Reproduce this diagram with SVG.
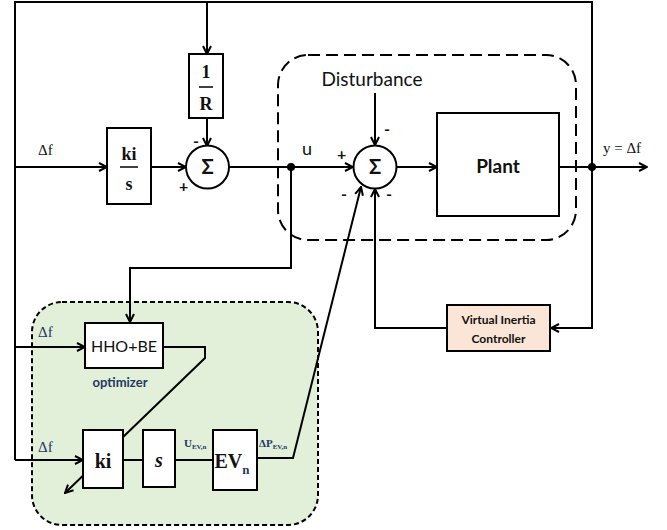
<svg xmlns="http://www.w3.org/2000/svg" width="667" height="530" viewBox="0 0 667 530">
<style>
.ln{fill:none;stroke:#000;stroke-width:2}
.box{fill:#fff;stroke:#000;stroke-width:2}
.sans{font-family:Lato,"Liberation Sans",sans-serif;fill:#111}
.serif{font-family:"Liberation Serif","DejaVu Serif",serif;fill:#111}
.blue{fill:#1f3864}
</style>
<defs>
<marker id="arr" viewBox="0 0 10 10" refX="9" refY="5" markerWidth="10" markerHeight="10" markerUnits="userSpaceOnUse" orient="auto">
<path d="M1,1 L9,5 L1,9" fill="none" stroke="#000" stroke-width="2"/>
</marker>
</defs>
<rect width="667" height="530" fill="#fff"/>
<g id="ev-region">
<rect x="32" y="302" width="286" height="223" rx="30" fill="#e2efd9" stroke="#000" stroke-width="2" stroke-dasharray="5,3"/>
</g>
<g id="plant-region">
<rect x="278" y="55" width="298" height="185" rx="30" fill="none" stroke="#000" stroke-width="2" stroke-dasharray="12,6"/>
</g>
<g id="connectors">
<path class="ln" d="M15,460 V2 H592 V328 H551" marker-end="url(#arr)"/>
<path class="ln" d="M207,2 V54" marker-end="url(#arr)"/>
<path class="ln" d="M207,118 V146" marker-end="url(#arr)"/>
<path class="ln" d="M15,167 H107" marker-end="url(#arr)"/>
<path class="ln" d="M151,167 H186" marker-end="url(#arr)"/>
<path class="ln" d="M229,167 H353" marker-end="url(#arr)"/>
<path class="ln" d="M291,167 V268 H130 V322" marker-end="url(#arr)"/>
<path class="ln" d="M396,167 H437" marker-end="url(#arr)"/>
<path class="ln" d="M559,167 H647" marker-end="url(#arr)"/>
<path class="ln" d="M375,93 V145" marker-end="url(#arr)"/>
<path class="ln" d="M447,328 H375 V189" marker-end="url(#arr)"/>
<path class="ln" d="M257,458 H293 L361,187" marker-end="url(#arr)"/>
<path class="ln" d="M15,347 H85" marker-end="url(#arr)"/>
<path class="ln" d="M163,347 H205 V358 L65,493" marker-end="url(#arr)"/>
<path class="ln" d="M15,460 H83" marker-end="url(#arr)"/>
<path class="ln" d="M123,460 H143"/>
<path class="ln" d="M175,460 H213"/>
<circle cx="291" cy="167" r="4"/>
<circle cx="592" cy="167" r="4"/>
</g>
<g id="labels">
<text class="serif" x="38" y="155" font-size="15">Δf</text>
<text class="sans" x="302" y="155" font-size="18">u</text>
<text class="serif" x="603" y="153" font-size="15">y = Δf</text>
<text class="sans" x="372" y="86" font-size="19" text-anchor="middle">Disturbance</text>
<text class="sans" x="193" y="147" font-size="16" font-weight="bold">-</text>
<text class="sans" x="179" y="192" font-size="16" font-weight="bold">+</text>
<text class="sans" x="384" y="135" font-size="16" font-weight="bold">-</text>
<text class="sans" x="337" y="160" font-size="16" font-weight="bold">+</text>
<text class="sans" x="341" y="200" font-size="16" font-weight="bold">-</text>
<text class="sans" x="386" y="200" font-size="16" font-weight="bold">-</text>
<text class="serif blue" x="38" y="337" font-size="15">Δf</text>
<text class="serif blue" x="38" y="452" font-size="15">Δf</text>
<text class="sans blue" x="120" y="387" font-size="13" font-weight="bold" text-anchor="middle">optimizer</text>
<text class="serif blue" x="184" y="447" font-size="11" font-weight="bold">U<tspan font-size="7" dy="2">EV,n</tspan></text>
<text class="serif blue" x="259" y="447" font-size="11" font-weight="bold">ΔP<tspan font-size="7" dy="2">EV,n</tspan></text>
</g>
<g id="node-ki-s">
<rect class="box" x="107" y="128" width="44" height="76"/>
<text class="serif" x="129" y="160" font-size="18" font-weight="bold" text-anchor="middle">ki</text>
<line x1="120" y1="167" x2="138" y2="167" stroke="#000" stroke-width="1.5"/>
<text class="serif" x="129" y="190" font-size="18" font-weight="bold" text-anchor="middle">s</text>
</g>
<g id="node-1-R">
<rect class="box" x="189" y="54" width="34" height="64"/>
<text class="serif" x="206" y="78" font-size="18" font-weight="bold" text-anchor="middle">1</text>
<line x1="199" y1="87" x2="213" y2="87" stroke="#000" stroke-width="1.5"/>
<text class="serif" x="206" y="110" font-size="18" font-weight="bold" text-anchor="middle">R</text>
</g>
<g id="node-sum1">
<circle class="box" cx="207.5" cy="167" r="21.5"/>
<text class="sans" x="207.5" y="174" font-size="20" font-weight="bold" text-anchor="middle">Σ</text>
</g>
<g id="node-sum2">
<circle class="box" cx="375" cy="167" r="21.5"/>
<text class="sans" x="375" y="174" font-size="20" font-weight="bold" text-anchor="middle">Σ</text>
</g>
<g id="node-plant">
<rect class="box" x="437" y="113" width="122" height="103"/>
<text class="sans" x="498" y="173" font-size="19" font-weight="bold" text-anchor="middle">Plant</text>
</g>
<g id="node-vic">
<rect x="447" y="305" width="103" height="46" fill="#fbe5d6" stroke="#000" stroke-width="2"/>
<text class="sans" x="498.5" y="324" font-size="12" font-weight="bold" text-anchor="middle">Virtual Inertia</text>
<text class="sans" x="498.5" y="343" font-size="12" font-weight="bold" text-anchor="middle">Controller</text>
</g>
<g id="node-hho">
<rect class="box" x="85" y="323" width="78" height="45"/>
<text class="sans" x="124" y="352" font-size="16" text-anchor="middle">HHO+BE</text>
</g>
<g id="node-ki">
<rect class="box" x="83" y="430" width="40" height="58"/>
<text class="serif" x="103" y="468" font-size="20" font-weight="bold" text-anchor="middle">ki</text>
</g>
<g id="node-s">
<rect class="box" x="143" y="430" width="32" height="57"/>
<text class="serif" x="159" y="467" font-size="20" font-weight="bold" font-style="italic" text-anchor="middle">s</text>
</g>
<g id="node-ev">
<rect class="box" x="213" y="430" width="44" height="60"/>
<text class="serif" x="232" y="468" font-size="20" font-weight="bold" text-anchor="middle">EV<tspan class="blue" font-size="13" dy="6">n</tspan></text>
</g>
</svg>
